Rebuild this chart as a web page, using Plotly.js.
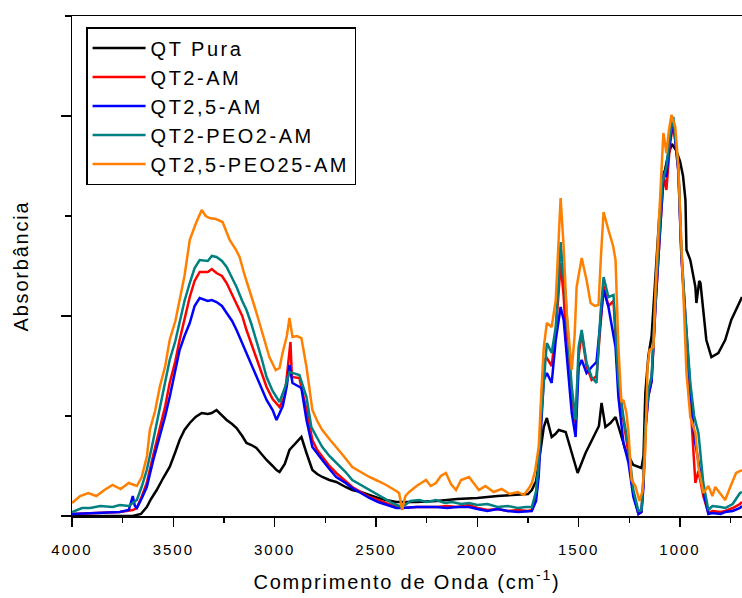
<!DOCTYPE html>
<html>
<head>
<meta charset="utf-8">
<script src="https://cdn.plot.ly/plotly-3.0.1.min.js"></script>
<style>
  html, body { margin: 0; padding: 0; background: #fff; }
  #chart { width: 742px; height: 598px; }
  .legendtext { letter-spacing: 2.5px; }
  .xtick text { letter-spacing: 2px; }
  .g-xtitle text, .g-ytitle text { letter-spacing: 1.8px; }
</style>
</head>
<body>
<div id="chart"></div>
<script>
// ---- data (wavenumber in cm^-1, absorbance in arbitrary units) ----
const seriesNames = ["QT Pura", "QT2-AM", "QT2,5-AM", "QT2-PEO2-AM", "QT2,5-PEO25-AM"];
const seriesColors = ["#000000", "#ff0000", "#0000ff", "#008080", "#ff8000"];
const xTickValues = [4000, 3500, 3000, 2500, 2000, 1500, 1000];

const wnPura = [4000,3800,3700,3660,3631,3610,3582,3550,3518,3490,3469,3445,3419,3390,3360,3330,3310,3287,3260,3237,3210,3188,3160,3139,3115,3090,3065,3040,3010,2991,2976,2950,2927,2900,2868,2843,2814,2790,2765,2730,2696,2650,2617,2575,2533,2490,2450,2400,2300,2200,2100,2000,1900,1800,1750,1731,1710,1697,1672,1657,1633,1615,1598,1564,1534,1505,1466,1426,1400,1387,1368,1343,1318,1294,1269,1230,1205,1190,1180,1171,1156,1140,1121,1102,1080,1060,1040,1020,1000,985,973,968,949,924,919,905,899,885,870,845,811,777,747,694];
const absPura = [0.00,0.00,0.00,0.02,0.09,0.17,0.26,0.38,0.49,0.64,0.76,0.86,0.93,0.99,1.03,1.02,1.03,1.06,1.00,0.96,0.92,0.88,0.80,0.73,0.71,0.68,0.62,0.56,0.50,0.46,0.44,0.52,0.66,0.72,0.79,0.63,0.46,0.42,0.39,0.36,0.34,0.29,0.26,0.24,0.21,0.18,0.16,0.14,0.14,0.15,0.17,0.18,0.20,0.21,0.22,0.26,0.35,0.53,0.89,0.98,0.79,0.82,0.86,0.84,0.63,0.43,0.63,0.79,0.90,1.13,0.89,0.93,0.99,0.83,0.66,0.51,0.49,0.48,0.60,1.23,1.60,1.80,2.40,3.00,3.40,3.60,3.72,3.66,3.55,3.40,3.16,2.66,2.56,2.29,2.13,2.35,2.33,2.03,1.76,1.59,1.63,1.76,1.96,2.19];

const wnQT2AM = [4000,3900,3800,3764,3700,3680,3655,3631,3600,3567,3540,3518,3490,3469,3445,3419,3395,3370,3330,3310,3287,3260,3237,3210,3188,3160,3139,3115,3090,3065,3040,3010,2976,2950,2942,2930,2922,2915,2878,2843,2814,2790,2765,2730,2696,2650,2617,2575,2533,2490,2450,2400,2371,2300,2204,2150,2100,2041,2000,1950,1900,1850,1800,1750,1731,1710,1697,1685,1672,1657,1633,1613,1600,1589,1574,1560,1534,1515,1500,1485,1461,1436,1412,1392,1377,1353,1328,1304,1279,1254,1230,1205,1190,1180,1171,1156,1140,1121,1097,1080,1067,1050,1033,1008,993,973,949,930,924,909,885,860,840,800,777,740,704,694];
const absQT2AM = [0.02,0.03,0.04,0.04,0.06,0.08,0.20,0.33,0.60,0.86,1.10,1.33,1.55,1.76,1.98,2.19,2.35,2.44,2.44,2.47,2.43,2.40,2.33,2.22,2.13,2.00,1.86,1.72,1.56,1.42,1.29,1.17,1.09,1.20,1.36,1.55,1.74,1.39,1.38,1.06,0.76,0.66,0.59,0.50,0.43,0.35,0.29,0.24,0.19,0.16,0.13,0.09,0.08,0.09,0.09,0.10,0.09,0.11,0.08,0.06,0.07,0.05,0.06,0.05,0.06,0.20,0.45,1.10,1.56,1.58,1.50,1.85,2.20,2.53,2.20,1.70,1.19,0.93,1.60,1.83,1.50,1.36,1.40,1.95,2.30,2.10,2.15,1.30,0.97,0.62,0.22,0.02,0.04,0.35,0.85,1.20,1.35,2.10,2.90,3.40,3.26,3.70,3.95,3.45,2.60,1.95,1.20,0.60,0.33,0.45,0.20,0.03,0.05,0.04,0.05,0.08,0.12,0.14];

const wnQT25AM = [4000,3900,3800,3764,3720,3700,3690,3680,3655,3631,3600,3567,3540,3518,3490,3469,3445,3419,3395,3370,3330,3310,3287,3260,3237,3210,3188,3160,3139,3115,3090,3065,3040,3010,2991,2960,2940,2927,2912,2868,2843,2814,2790,2765,2730,2696,2650,2617,2575,2533,2490,2450,2400,2371,2300,2204,2150,2100,2041,2000,1950,1900,1850,1800,1750,1731,1710,1697,1685,1672,1657,1633,1613,1600,1589,1574,1549,1534,1515,1500,1485,1461,1436,1412,1392,1377,1353,1328,1318,1304,1279,1254,1230,1205,1190,1180,1171,1156,1140,1121,1097,1080,1067,1050,1033,1008,993,973,949,930,909,885,860,840,800,777,740,704,694];
const absQT25AM = [0.02,0.03,0.04,0.04,0.06,0.20,0.10,0.08,0.18,0.29,0.55,0.79,1.00,1.19,1.45,1.66,1.80,1.93,2.10,2.18,2.15,2.16,2.14,2.10,2.03,1.95,1.86,1.73,1.63,1.51,1.39,1.28,1.16,1.06,0.96,1.10,1.30,1.51,1.33,1.28,0.96,0.69,0.62,0.56,0.47,0.39,0.33,0.28,0.23,0.18,0.14,0.11,0.08,0.08,0.09,0.09,0.08,0.09,0.09,0.07,0.05,0.07,0.05,0.04,0.05,0.05,0.15,0.40,0.90,1.36,1.43,1.33,1.76,1.95,2.09,1.96,1.36,1.03,0.79,1.49,1.56,1.43,1.49,1.54,1.96,2.26,2.09,1.79,1.69,1.19,0.73,0.53,0.19,0.02,0.04,0.30,0.86,1.20,1.35,2.10,2.95,3.45,3.39,3.75,3.95,3.45,2.60,1.95,1.25,0.80,0.55,0.25,0.02,0.03,0.02,0.04,0.05,0.08,0.10];

const wnQT2PEO = [4000,3950,3911,3860,3800,3764,3720,3680,3655,3631,3605,3582,3550,3518,3490,3469,3445,3419,3395,3370,3330,3310,3287,3260,3237,3210,3188,3160,3139,3115,3090,3065,3040,3010,2976,2950,2927,2900,2878,2843,2819,2790,2765,2730,2696,2650,2617,2575,2533,2490,2450,2410,2371,2330,2287,2250,2204,2160,2125,2080,2041,2000,1950,1900,1850,1800,1760,1731,1710,1697,1685,1672,1657,1633,1613,1600,1589,1577,1564,1549,1534,1515,1500,1485,1461,1436,1412,1392,1377,1353,1328,1304,1279,1254,1230,1205,1190,1180,1171,1156,1140,1121,1087,1067,1050,1033,1008,993,973,949,930,909,885,860,840,800,777,740,704,694];
const absQT2PEO = [0.04,0.08,0.08,0.10,0.09,0.11,0.10,0.16,0.30,0.46,0.70,0.93,1.25,1.56,1.75,1.93,2.15,2.33,2.48,2.56,2.55,2.60,2.59,2.55,2.49,2.38,2.29,2.15,2.06,1.92,1.76,1.58,1.39,1.25,1.14,1.28,1.44,1.42,1.41,1.19,0.89,0.78,0.69,0.60,0.53,0.44,0.36,0.31,0.26,0.21,0.16,0.12,0.09,0.15,0.16,0.14,0.16,0.13,0.14,0.12,0.13,0.11,0.12,0.09,0.10,0.08,0.09,0.09,0.25,0.53,1.00,1.36,1.73,1.63,1.89,2.30,2.74,2.45,2.19,1.70,1.29,0.96,1.69,1.86,1.53,1.39,1.33,2.03,2.39,2.19,2.21,1.36,0.99,0.69,0.26,0.05,0.06,0.40,0.89,1.26,1.40,2.16,3.33,3.49,3.80,3.99,3.49,2.66,1.99,1.33,1.00,0.83,0.33,0.06,0.10,0.09,0.08,0.12,0.23,0.24];

const wnQT25PEO = [4000,3960,3920,3880,3840,3800,3760,3720,3680,3656,3630,3616,3590,3567,3540,3518,3490,3469,3445,3419,3390,3360,3340,3321,3290,3257,3222,3190,3173,3150,3124,3100,3075,3050,3026,2995,2976,2961,2940,2927,2912,2890,2868,2843,2814,2790,2765,2730,2696,2660,2617,2575,2533,2490,2450,2400,2386,2371,2355,2336,2300,2253,2230,2204,2180,2155,2130,2105,2080,2041,2010,1992,1960,1920,1880,1840,1800,1770,1745,1731,1715,1697,1685,1672,1657,1633,1613,1600,1589,1574,1559,1534,1520,1510,1485,1461,1441,1420,1402,1390,1377,1353,1330,1318,1304,1289,1279,1264,1254,1239,1220,1200,1185,1171,1160,1150,1131,1121,1097,1082,1067,1055,1042,1023,1008,993,983,968,949,924,909,885,860,840,826,800,777,750,723,694];
const absQT25PEO = [0.13,0.20,0.23,0.20,0.26,0.31,0.27,0.33,0.30,0.39,0.60,0.86,1.05,1.29,1.50,1.76,1.95,2.16,2.40,2.76,2.92,3.06,3.00,2.98,2.97,2.94,2.76,2.66,2.59,2.42,2.26,2.10,1.93,1.76,1.59,1.46,1.48,1.63,1.80,1.98,1.79,1.80,1.78,1.49,1.06,0.95,0.86,0.77,0.69,0.60,0.49,0.44,0.39,0.35,0.31,0.25,0.23,0.06,0.20,0.24,0.30,0.36,0.30,0.33,0.40,0.43,0.32,0.26,0.36,0.39,0.30,0.26,0.30,0.24,0.27,0.22,0.24,0.21,0.28,0.33,0.45,0.69,1.20,1.69,1.93,1.89,2.16,2.70,3.18,2.69,2.03,1.46,1.80,2.29,2.58,2.36,2.13,2.10,2.11,2.60,3.04,2.86,2.70,2.56,1.69,1.14,1.16,1.03,0.83,0.36,0.30,0.15,0.25,0.66,1.50,1.66,1.69,2.26,3.16,3.83,3.63,3.85,4.01,3.89,3.49,2.66,2.06,1.43,0.99,0.83,0.49,0.23,0.30,0.20,0.29,0.22,0.16,0.30,0.43,0.46];

const xData = [wnPura, wnQT2AM, wnQT25AM, wnQT2PEO, wnQT25PEO];
const yData = [absPura, absQT2AM, absQT25AM, absQT2PEO, absQT25PEO];

const traces = seriesNames.map((name, i) => ({
  type: "scatter",
  mode: "lines",
  name: name,
  x: xData[i],
  y: yData[i],
  line: { color: seriesColors[i], width: 2.5 }
}));

const fontFam = "'Liberation Sans', Arial, sans-serif";

const layout = {
  width: 742,
  height: 598,
  margin: { l: 72, r: 0, t: 16, b: 82 },
  paper_bgcolor: "#ffffff",
  plot_bgcolor: "#ffffff",
  font: { family: fontFam, color: "#000000" },
  showlegend: true,
  legend: {
    x: 0.021, y: 0.978, xanchor: "left", yanchor: "top",
    bgcolor: "#ffffff", bordercolor: "#000000", borderwidth: 1.5,
    font: { family: fontFam, size: 20, color: "#000000" },
    itemwidth: 53,
    tracegroupgap: 0
  },
  xaxis: {
    range: [4000, 694],
    tickvals: xTickValues,
    ticktext: xTickValues.map(String),
    ticks: "outside", ticklen: 9, tickwidth: 1.5, tickcolor: "#000000",
    ticklabelstandoff: 10,
    minor: { dtick: 250, tick0: 0, ticks: "outside", ticklen: 5, tickwidth: 1.5, tickcolor: "#000000", showgrid: false },
    showline: true, linecolor: "#000000", linewidth: 1.5, mirror: true,
    showgrid: false, zeroline: false,
    tickfont: { family: fontFam, size: 15, color: "#000000" },
    title: { text: "Comprimento de Onda (cm<sup>-1</sup>)", font: { family: fontFam, size: 20, color: "#000000" }, standoff: 18 }
  },
  yaxis: {
    range: [0, 5],
    tick0: 0, dtick: 2,
    ticks: "outside", ticklen: 10, tickwidth: 1.5, tickcolor: "#000000",
    minor: { dtick: 1, tick0: 0, ticks: "outside", ticklen: 6, tickwidth: 1.5, tickcolor: "#000000", showgrid: false },
    showticklabels: false,
    showline: true, linecolor: "#000000", linewidth: 1.5,
    showgrid: false, zeroline: false,
    title: { text: "Absorbância", font: { family: fontFam, size: 20, color: "#000000" }, standoff: 26 }
  }
};

Plotly.newPlot("chart", traces, layout, { displayModeBar: false, staticPlot: true });
</script>
</body>
</html>
